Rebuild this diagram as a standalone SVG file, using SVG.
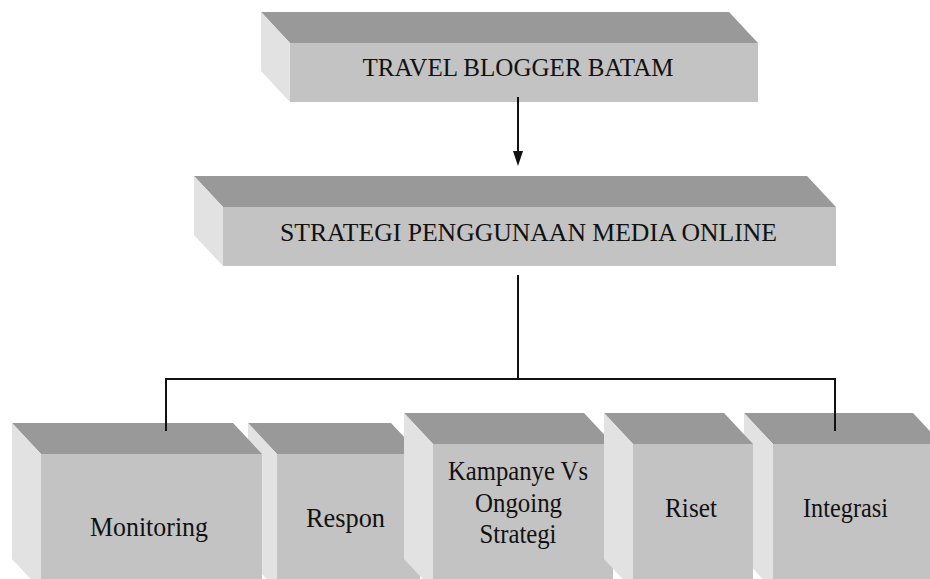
<svg xmlns="http://www.w3.org/2000/svg" width="930" height="579" viewBox="0 0 930 579">
<style>
.top{fill:#999999}
.side{fill:#e2e2e2}
.front{fill:#c3c3c3}
.tx{font-family:'Liberation Serif','Times New Roman',serif;fill:#111;text-anchor:middle}
.big{font-size:25px}
.sm{font-size:27px}
.ln{stroke:#111;stroke-width:2;fill:none}
</style>
<rect width="930" height="579" fill="#ffffff"/>

<g id="travel-blogger-batam">
<polygon class="top" points="261,12 729,12 758,43 290,43"/>
<polygon class="side" points="261,12 290,43 290,102 261,71"/>
<rect class="front" x="290" y="43" width="468" height="59"/>
<text class="tx big" x="518" y="76" textLength="311" lengthAdjust="spacingAndGlyphs">TRAVEL BLOGGER BATAM</text>
</g>

<g id="strategi">
<polygon class="top" points="194,176 807,176 836,207 223,207"/>
<polygon class="side" points="194,176 223,207 223,266 194,235"/>
<rect class="front" x="223" y="207" width="613" height="59"/>
<text class="tx big" x="528.5" y="241" textLength="497" lengthAdjust="spacingAndGlyphs">STRATEGI PENGGUNAAN MEDIA ONLINE</text>
</g>

<g id="respon">
<polygon class="top" points="248,423 391,423 420,454 277,454"/>
<polygon class="side" points="248,423 277,454 277,590 248,559"/>
<rect class="front" x="277" y="454" width="143" height="136"/>
<text class="tx sm" x="345.5" y="527" textLength="79" lengthAdjust="spacingAndGlyphs">Respon</text>
</g>

<g id="monitoring">
<polygon class="top" points="12,423 233,423 262,454 41,454"/>
<polygon class="side" points="12,423 41,454 41,590 12,559"/>
<rect class="front" x="41" y="454" width="221" height="136"/>
<text class="tx sm" x="149" y="536" textLength="118" lengthAdjust="spacingAndGlyphs">Monitoring</text>
</g>

<g id="integrasi">
<polygon class="top" points="744,413 913,413 942,444 773,444"/>
<polygon class="side" points="744,413 773,444 773,590 744,559"/>
<rect class="front" x="773" y="444" width="169" height="146"/>
<text class="tx sm" x="845.5" y="517" textLength="85" lengthAdjust="spacingAndGlyphs">Integrasi</text>
</g>

<g id="kampanye">
<polygon class="top" points="404,413 584,413 613,444 433,444"/>
<polygon class="side" points="404,413 433,444 433,590 404,559"/>
<rect class="front" x="433" y="444" width="180" height="146"/>
<text class="tx sm" x="518" y="480" textLength="140" lengthAdjust="spacingAndGlyphs">Kampanye Vs</text>
<text class="tx sm" x="518.5" y="512" textLength="87" lengthAdjust="spacingAndGlyphs">Ongoing</text>
<text class="tx sm" x="518" y="543" textLength="77" lengthAdjust="spacingAndGlyphs">Strategi</text>
</g>

<g id="riset">
<polygon class="top" points="604,413 724,413 753,444 633,444"/>
<polygon class="side" points="604,413 633,444 633,590 604,559"/>
<rect class="front" x="633" y="444" width="120" height="146"/>
<text class="tx sm" x="691" y="517" textLength="52" lengthAdjust="spacingAndGlyphs">Riset</text>
</g>

<g id="connectors">
<line class="ln" x1="518" y1="97" x2="518" y2="152"/>
<polygon points="513,151 523,151 518,166" fill="#111"/>
<polyline class="ln" points="518,275 518,379"/>
<polyline class="ln" points="166,431 166,379 835,379 835,431"/>
</g>
</svg>
